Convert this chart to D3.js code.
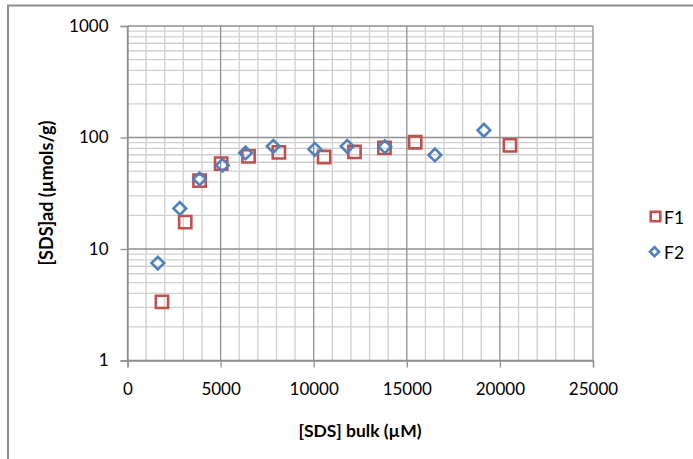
<!DOCTYPE html>
<html>
<head>
<meta charset="utf-8">
<script src="https://cdn.jsdelivr.net/npm/d3@7"></script>
<style>
  html, body { margin: 0; padding: 0; background: #fff; }
  svg { display: block; }
  text { font-family: Lato, "Open Sans", sans-serif; fill: #000; }
</style>
</head>
<body>
<svg id="chart" width="693" height="459"></svg>
<script>
// Adsorbed SDS vs bulk SDS concentration, two fabrics
const seriesNames = ["F1", "F2"];
const xF1 = [1850, 3100, 3870, 5030, 6500, 8130, 10560, 12190, 13800, 15450, 20540];
const yF1 = [3.36, 17.4, 41.0, 58.3, 67.8, 73.6, 66.9, 74.2, 80.7, 90.6, 85.1];
const xF2 = [1630, 2810, 3870, 5100, 6340, 7830, 10060, 11800, 13820, 16510, 19140];
const yF2 = [7.47, 23.1, 42.5, 56.5, 72.7, 83.4, 78.3, 83.4, 82.8, 69.8, 116.1];
const xTicks = [0, 5000, 10000, 15000, 20000, 25000];
const yTicks = [1, 10, 100, 1000];
const xTitle = "[SDS] bulk (µM)";
const yTitle = "[SDS]ad (µmols/g)";

const svg = d3.select("#chart");
const plot = { left: 127.5, right: 593, top: 26, bottom: 360.5 };

const x = d3.scaleLinear().domain([0, 25000]).range([plot.left, plot.right]);
const y = d3.scaleLog().domain([1, 1000]).range([plot.bottom, plot.top]);

// outer chart frame
svg.append("rect")
  .attr("x", 8).attr("y", 5.5).attr("width", 720).attr("height", 480)
  .attr("fill", "none").attr("stroke", "#8c8c8c").attr("stroke-width", 2);

// minor grid
const xMinor = d3.range(1000, 25000, 1000).filter(v => v % 5000 !== 0);
const yMinor = [];
[1, 10, 100].forEach(d => { for (let k = 2; k <= 9; k++) yMinor.push(d * k); });

const grid = svg.append("g");
grid.selectAll(".vminor").data(xMinor).join("line")
  .attr("x1", d => x(d)).attr("x2", d => x(d))
  .attr("y1", plot.top).attr("y2", plot.bottom)
  .attr("stroke", "#cfcfcf").attr("stroke-width", 1.3);
grid.selectAll(".hminor").data(yMinor).join("line")
  .attr("x1", plot.left).attr("x2", plot.right)
  .attr("y1", d => y(d)).attr("y2", d => y(d))
  .attr("stroke", "#cfcfcf").attr("stroke-width", 1.3);

// major grid
grid.selectAll(".vmajor").data(xTicks).join("line")
  .attr("x1", d => x(d)).attr("x2", d => x(d))
  .attr("y1", plot.top).attr("y2", plot.bottom)
  .attr("stroke", "#8f8f8f").attr("stroke-width", 1.3);
grid.selectAll(".hmajor").data(yTicks).join("line")
  .attr("x1", plot.left).attr("x2", plot.right)
  .attr("y1", d => y(d)).attr("y2", d => y(d))
  .attr("stroke", "#8f8f8f").attr("stroke-width", 1.3);

// axes
const xAxis = d3.axisBottom(x).tickValues(xTicks).tickSize(7).tickPadding(8)
  .tickFormat(d3.format("d"));
const gx = svg.append("g").attr("transform", `translate(0,${plot.bottom})`).call(xAxis);
gx.select(".domain").attr("stroke", "#8f8f8f").attr("stroke-width", 1.3);
gx.selectAll(".tick line").attr("stroke", "#8f8f8f").attr("stroke-width", 1.3);
gx.selectAll(".tick text").attr("font-size", 17).attr("font-family", "Lato").attr("dy", "1.15em");

const yAxis = d3.axisLeft(y).tickValues(yTicks).tickSize(7).tickPadding(12)
  .tickFormat(d3.format("d"));
const gy = svg.append("g").attr("transform", `translate(${plot.left},0)`).call(yAxis);
gy.select(".domain").attr("stroke", "#8f8f8f").attr("stroke-width", 1.3);
gy.selectAll(".tick line").attr("stroke", "#8f8f8f").attr("stroke-width", 1.3);
gy.selectAll(".tick text").attr("font-size", 17).attr("font-family", "Lato");

// axis titles
svg.append("text")
  .attr("x", 360).attr("y", 437).attr("text-anchor", "middle")
  .attr("font-size", 17.5).attr("font-weight", "bold").text(xTitle);
svg.append("text")
  .attr("transform", "translate(53,193) rotate(-90)").attr("text-anchor", "middle")
  .attr("font-size", 18).attr("font-weight", "bold").text(yTitle);

// markers
const colors = { F1: "#c0504d", F2: "#4f81bd" };
const square = d3.symbol().type(d3.symbolSquare).size(150);
const diamond = d3.symbol().type(d3.symbolSquare).size(80);

const f1 = xF1.map((v, i) => ({ x: v, y: yF1[i] }));
const f2 = xF2.map((v, i) => ({ x: v, y: yF2[i] }));

svg.append("g").selectAll("path").data(f1).join("path")
  .attr("d", square)
  .attr("transform", d => `translate(${x(d.x)},${y(d.y)})`)
  .attr("fill", "none").attr("stroke", colors.F1).attr("stroke-width", 2.6);

svg.append("g").selectAll("path").data(f2).join("path")
  .attr("d", diamond)
  .attr("transform", d => `translate(${x(d.x)},${y(d.y)}) rotate(45)`)
  .attr("fill", "none").attr("stroke", colors.F2).attr("stroke-width", 2.6);

// legend
const legend = svg.append("g");
legend.append("path")
  .attr("d", d3.symbol().type(d3.symbolSquare).size(90))
  .attr("transform", "translate(655.5,216.5)")
  .attr("fill", "none").attr("stroke", colors.F1).attr("stroke-width", 2.6);
legend.append("text").attr("x", 664).attr("y", 223.5).attr("font-size", 17.5).text(seriesNames[0]);
legend.append("path")
  .attr("d", d3.symbol().type(d3.symbolSquare).size(42))
  .attr("transform", "translate(654.5,251.7) rotate(45)")
  .attr("fill", "none").attr("stroke", colors.F2).attr("stroke-width", 2.6);
legend.append("text").attr("x", 664).attr("y", 258.5).attr("font-size", 17.5).text(seriesNames[1]);
</script>
</body>
</html>
